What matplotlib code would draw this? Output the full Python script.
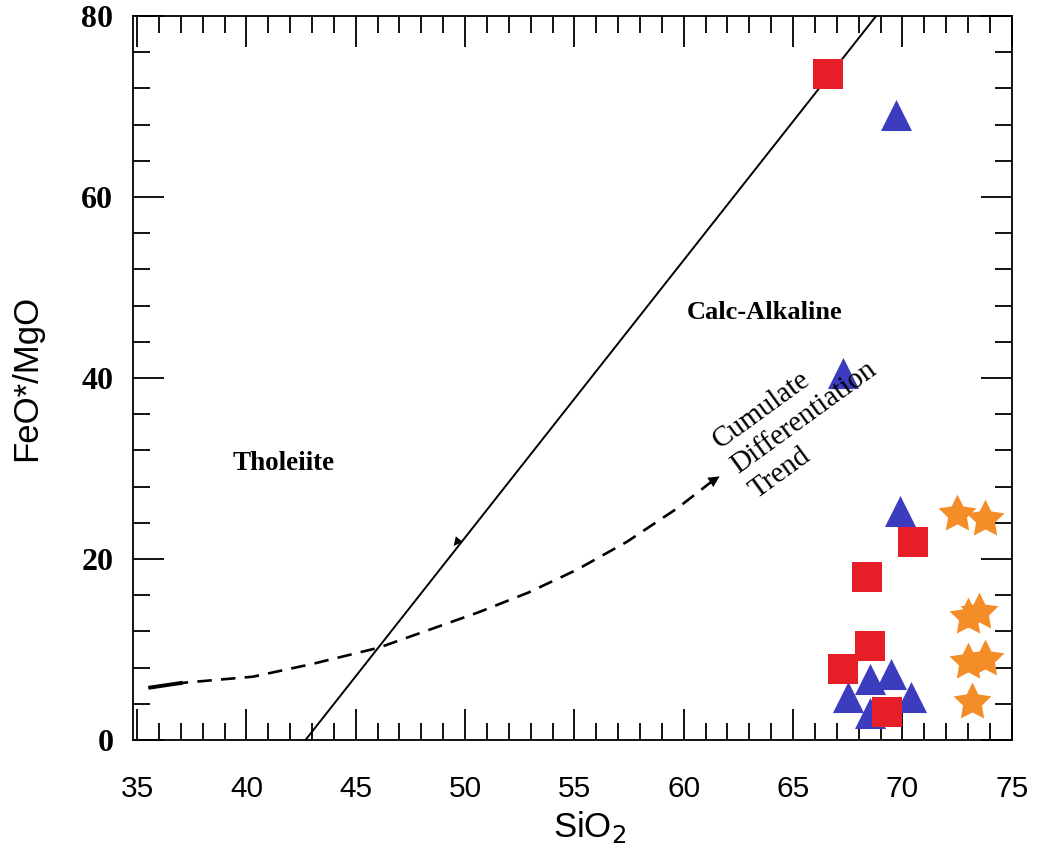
import matplotlib
matplotlib.use("Agg")
import matplotlib.pyplot as plt
from matplotlib.ticker import MultipleLocator

# boundary line Tholeiite / Calc-Alkaline
line_x = [42.7, 68.8]
line_y = [0, 80]

# cumulate differentiation trend (dashed)
trend_x = [35.6, 37.0, 40.3, 43.0, 46.05, 50.6, 52.9, 55.1, 57.4, 59.7, 61.3]
trend_y = [5.8, 6.3, 7.0, 8.4, 10.2, 14.1, 16.3, 18.8, 21.9, 25.6, 28.6]
arrow_tip = (61.75, 29.3)

# samples
sq_x = [66.6, 70.5, 68.4, 68.5, 67.3, 69.3]
sq_y = [73.6, 21.9, 18.0, 10.4, 7.9, 3.1]

tri_x = [69.7, 67.3, 69.9, 68.5, 69.5, 67.5, 68.5, 70.4]
tri_y = [69.1, 40.6, 25.3, 6.7, 7.3, 4.7, 3.0, 4.7]

star_x = [72.5, 73.8, 73.0, 73.5, 73.0, 73.8, 73.2]
star_y = [25.0, 24.4, 13.6, 14.1, 8.6, 8.9, 4.2]


fig = plt.figure(figsize=(10.37, 8.6), dpi=100)
ax = fig.add_axes([0.128, 0.1395, 0.8476, 0.8419])

ax.plot(line_x, line_y, color="k", lw=1.4)
ax.annotate("", xy=(49.4, 21.2), xytext=(50.2, 23.6),
            arrowprops=dict(arrowstyle="-|>", color="k", lw=0, mutation_scale=16))

ax.plot(trend_x, trend_y, color="k", lw=1.9, ls=(0, (5.5, 3.5)))
ax.plot(trend_x[:2], trend_y[:2], color="k", lw=2.8)
ax.annotate("", xy=arrow_tip, xytext=(trend_x[-1], trend_y[-1]),
            arrowprops=dict(arrowstyle="-|>", color="k", lw=0, mutation_scale=20))

ax.scatter(tri_x, tri_y, marker="^", s=500, color="#3c3cbe", lw=0, zorder=3)
ax.scatter(sq_x, sq_y, marker="s", s=450, color="#e61e28", lw=0, zorder=4)
ax.scatter(star_x, star_y, marker=(5, 1, 0), s=820, color="#f48c28", lw=0, zorder=3)

serif = "Liberation Serif"
ax.text(41.7, 30.5, "Tholeiite", family=serif, weight="bold", fontsize=19.5,
        ha="center", va="center")
ax.text(63.7, 47.2, "Calc-Alkaline", family=serif, weight="bold", fontsize=19,
        ha="center", va="center")
ax.text(62.3, 30.0, "Cumulate\nDifferentiation\nTrend", family=serif, fontsize=21,
        rotation=36, rotation_mode="anchor", ha="left", va="center",
        multialignment="left", linespacing=1.25)

ax.set_xlim(34.8, 75.0)
ax.set_ylim(0, 80)
ax.xaxis.set_major_locator(MultipleLocator(5))
ax.xaxis.set_minor_locator(MultipleLocator(1))
ax.yaxis.set_major_locator(MultipleLocator(20))
ax.yaxis.set_minor_locator(MultipleLocator(4))

ax.tick_params(which="both", direction="in", top=True, right=True, width=1.3)
ax.tick_params(which="major", length=22)
ax.tick_params(which="minor", length=12)
ax.tick_params(axis="x", which="major", pad=25, labelsize=21.5)
ax.tick_params(axis="y", which="major", pad=14, labelsize=23)
for lab in ax.get_xticklabels():
    lab.set_family("Liberation Sans")
for lab in ax.get_yticklabels():
    lab.set_family(serif)
    lab.set_weight("bold")

for sp in ax.spines.values():
    sp.set_linewidth(1.3)

ax.set_xlabel("SiO$_2$", family="Liberation Sans", fontsize=25)
ax.xaxis.set_label_coords(0.52, -0.095)
ax.set_ylabel("FeO*/MgO", family="Liberation Sans", fontsize=25)
ax.yaxis.set_label_coords(-0.102, 0.5)

fig.savefig("out.png", dpi=100)
